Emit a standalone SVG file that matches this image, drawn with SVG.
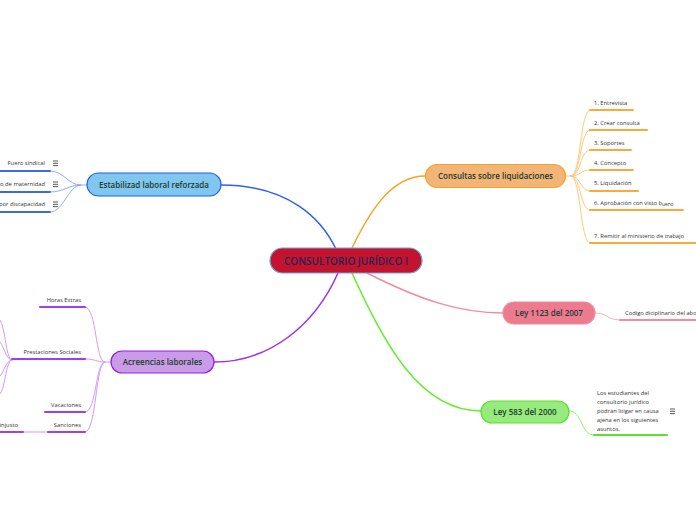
<svg xmlns="http://www.w3.org/2000/svg" width="696" height="520" viewBox="0 0 696 520">
<style>
.t{font-family:"Open Sans","Noto Sans","Liberation Sans",sans-serif}
.main{font-size:10px;font-weight:600;fill:#1c2553}
.topic{font-size:8px;font-weight:600;fill:#1d3a2c}
.sub{font-size:5.8px;fill:#333}
.c{fill:none;stroke-linecap:round}
.mc{stroke-width:1.5}
.sc{stroke-width:1}
.ul{stroke-width:2}
</style>
<defs>
<g id="menu"><path d="M0,0h5M0,2.3h5M0,4.6h5" stroke="#444" stroke-width="0.9" fill="none"/></g>
</defs>
<g id="connectors">
<path class="c mc" d="M336,249 C322,220 290,185 221,185" stroke="#2a5ff5"/>
<path class="c mc" d="M352,248 C368,215 390,176 425,176" stroke="#f9a21c"/>
<path class="c mc" d="M367,273 C420,300 460,313 503,313" stroke="#f08ca0"/>
<path class="c mc" d="M352,273 C385,345 420,411 481,411" stroke="#5ef02a"/>
<path class="c mc" d="M338,273 C315,325 270,362 214,362" stroke="#a12cf0"/>
<g stroke="#fdc97a" class="c sc">
<path d="M565,176 H571 C581,176 580,110 590,110"/>
<path d="M571,176 C581,176 580,130 590,130"/>
<path d="M571,176 C581,176 580,150 590,150"/>
<path d="M571,176 C581,176 580,170 590,170"/>
<path d="M571,176 C581,176 580,191 590,191"/>
<path d="M571,176 C581,176 580,210 590,210"/>
<path d="M571,176 C581,176 580,243 590,243"/>
</g>
<g stroke="#f9aa3a" class="c ul">
<path d="M590,110 H633"/><path d="M590,130 H647"/><path d="M590,150 H631"/><path d="M590,170 H633"/><path d="M590,191 H638"/><path d="M590,210 H683"/><path d="M590,243 H696"/>
</g>
<g stroke="#8cb0f7" class="c sc">
<path d="M87,185 H81 C68,185 64,171 50,171"/>
<path d="M81,185 C68,185 64,192 50,192"/>
<path d="M81,185 C68,185 64,212 50,212"/>
</g>
<g stroke="#3a6ae8" class="c ul">
<path d="M0,171 H50"/><path d="M0,192 H50"/><path d="M0,212 H50"/>
</g>
<g stroke="#d49af7" class="c sc">
<path d="M111,362 H105 C95,362 97,307 85,307"/>
<path d="M105,362 C95,362 97,359 85,359"/>
<path d="M105,362 C95,362 97,412 85,412"/>
<path d="M105,362 C95,362 97,432 85,432"/>
<path d="M48,432 H23"/>
<path d="M12,360 C5,360 6,322 -2,318"/>
<path d="M12,360 C5,360 4,343 -2,340"/>
<path d="M12,360 C5,360 4,375 -2,378"/>
<path d="M12,360 C5,360 6,392 -2,396"/>
</g>
<g stroke="#a13cf0" class="c ul">
<path d="M40,307 H85"/><path d="M12,359 H85"/><path d="M45,412 H85"/><path d="M48,432 H85"/><path d="M0,432 H23"/>
</g>
<path class="c sc" d="M595,313 C608,313 607,320 620,320" stroke="#f7b0bd"/>
<path class="c ul" d="M620,320 H696" stroke="#f08ca0"/>
<path class="c sc" d="M569,411 C583,411 580,435 594,435" stroke="#8ef26a"/>
<path class="c ul" d="M594,435 H667" stroke="#5ee030"/>
</g>
<g id="central">
<rect x="270" y="248" width="152" height="25" rx="12.5" fill="#c3132f" stroke="#6aa6dc" stroke-width="1.2"/>
<text class="t main" x="346" y="264.5" text-anchor="middle">CONSULTORIO JURÍDICO I</text>
</g>
<g id="estabilizad">
<rect x="87" y="173" width="134" height="23" rx="11.5" fill="#80c6ef" stroke="#1d5ee8" stroke-width="1.2"/>
<text class="t topic" x="154" y="187.7" text-anchor="middle">Estabilizad laboral reforzada</text>
</g>
<g id="consultas">
<rect x="425.5" y="164.5" width="140" height="23" rx="11.5" fill="#f2b477" stroke="#f9a21c" stroke-width="1.2"/>
<text class="t topic" x="495.5" y="179" text-anchor="middle">Consultas sobre liquidaciones</text>
</g>
<g id="ley1123">
<rect x="503" y="302" width="92" height="22" rx="11" fill="#ec7b8f" stroke="#f08ca0" stroke-width="1.2"/>
<text class="t topic" x="549" y="316" text-anchor="middle">Ley 1123 del 2007</text>
</g>
<g id="ley583">
<rect x="481" y="401" width="88" height="22" rx="11" fill="#97ea7e" stroke="#5ae02a" stroke-width="1.2"/>
<text class="t topic" x="525" y="415" text-anchor="middle">Ley 583  del 2000</text>
</g>
<g id="acreencias">
<rect x="111" y="351" width="103" height="22" rx="11" fill="#c89ce6" stroke="#9a1be6" stroke-width="1.2"/>
<text class="t topic" x="162.5" y="365" text-anchor="middle">Acreencias laborales</text>
</g>
<g id="c1"><text class="t sub" x="594" y="105">1. Entrevista</text></g>
<g id="c2"><text class="t sub" x="594" y="125">2. Crear consulta</text></g>
<g id="c3"><text class="t sub" x="594" y="145">3. Soportes</text></g>
<g id="c4"><text class="t sub" x="594" y="165">4. Concepto</text></g>
<g id="c5"><text class="t sub" x="594" y="185">5. Liquidación</text></g>
<g id="c6"><text class="t sub" x="594" y="205">6. Aprobación con visto b<tspan font-size="4.8" dy="1">ueno</tspan></text></g>
<g id="c7"><text class="t sub" x="594" y="238">7. Remitir al ministerio de trabajo</text></g>
<g id="e1"><text class="t sub" x="45" y="165" text-anchor="end">Fuero sindical</text><use href="#menu" x="53" y="161"/></g>
<g id="e2"><text class="t sub" x="45" y="186" text-anchor="end">Fuero de maternidad</text><use href="#menu" x="53" y="182"/></g>
<g id="e3"><text class="t sub" x="45" y="206" text-anchor="end">Fuero por discapacidad</text><use href="#menu" x="53" y="202"/></g>
<g id="a1"><text class="t sub" x="81" y="302" text-anchor="end">Horas Extras</text></g>
<g id="a2"><text class="t sub" x="81" y="354" text-anchor="end">Prestaciones Sociales</text></g>
<g id="a3"><text class="t sub" x="81" y="407" text-anchor="end">Vacaciones</text></g>
<g id="a4"><text class="t sub" x="81" y="427" text-anchor="end">Sanciones</text></g>
<g id="a5"><text class="t sub" x="18" y="427" text-anchor="end">Despido injusto</text></g>
<g id="l1"><text class="t sub" x="625" y="315">Codigo diciplinario del abogado</text></g>
<g id="l2">
<text class="t sub" x="597"><tspan x="597" y="395">Los estudiantes del</tspan><tspan x="597" y="404">consultorio jurídico</tspan><tspan x="597" y="413">podrán litigar en causa</tspan><tspan x="597" y="422">ajena en los siguientes</tspan><tspan x="597" y="431">asuntos.</tspan></text>
<use href="#menu" x="670" y="409"/>
</g>
</svg>
